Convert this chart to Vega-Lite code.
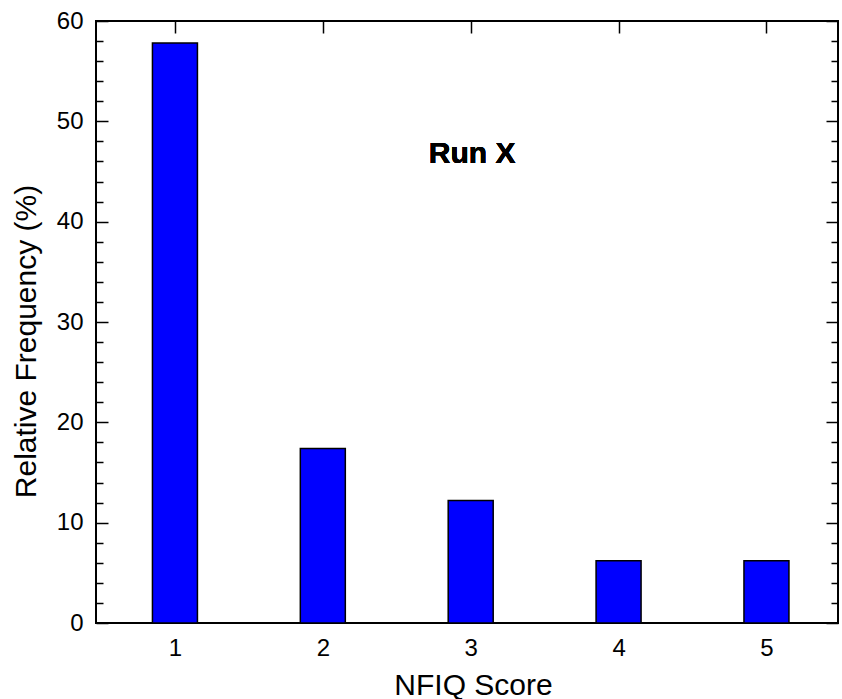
{
  "$schema": "https://vega.github.io/schema/vega-lite/v6.json",
  "width": 742,
  "height": 602,
  "autosize": "none",
  "padding": {"left": 96, "top": 21, "right": 4, "bottom": 76},
  "background": "white",
  "config": {
    "view": {"stroke": "black", "strokeWidth": 2},
    "axis": {
      "domain": false,
      "grid": false,
      "labelFont": "Liberation Sans",
      "titleFont": "Liberation Sans",
      "labelColor": "black",
      "titleColor": "black",
      "tickColor": "black",
      "tickWidth": 1.5,
      "titleFontWeight": "normal"
    }
  },
  "data": {
    "values": [
      {"score": 1, "freq": 57.8},
      {"score": 2, "freq": 17.4},
      {"score": 3, "freq": 12.2},
      {"score": 4, "freq": 6.2},
      {"score": 5, "freq": 6.2}
    ]
  },
  "layer": [
    {
      "mark": {"type": "bar", "color": "#0000ff", "stroke": "black", "strokeWidth": 1.5, "width": 45},
      "encoding": {
        "x": {
          "field": "score", "type": "quantitative",
          "scale": {"domain": [0.5, 5.45], "nice": false, "zero": false},
          "axis": {"orient": "bottom", "values": [1, 2, 3, 4, 5], "tickSize": -12, "labelPadding": 25, "labelFontSize": 24, "title": "NFIQ Score", "titleFontSize": 30, "titlePadding": 10, "titleX": 377, "format": "d"}
        },
        "y": {
          "field": "freq", "type": "quantitative",
          "scale": {"domain": [0, 60], "nice": false},
          "axis": {"orient": "left", "values": [0, 10, 20, 30, 40, 50, 60], "tickSize": -12, "labelPadding": 25, "labelFontSize": 24, "title": "Relative Frequency (%)", "titleFontSize": 30, "titlePadding": 15, "titleY": 320}
        }
      }
    },
    {
      "mark": {"type": "bar", "opacity": 0, "width": 45},
      "encoding": {
        "x": {
          "field": "score", "type": "quantitative",
          "scale": {"domain": [0.5, 5.45], "nice": false, "zero": false},
          "axis": {"orient": "top", "values": [1, 2, 3, 4, 5], "tickSize": -12, "labels": false, "title": null}
        },
        "y": {
          "field": "freq", "type": "quantitative",
          "scale": {"domain": [0, 60], "nice": false},
          "axis": {"orient": "left", "values": [2, 4, 6, 8, 12, 14, 16, 18, 22, 24, 26, 28, 32, 34, 36, 38, 42, 44, 46, 48, 52, 54, 56, 58], "tickSize": -7, "labels": false, "title": null}
        }
      }
    },
    {
      "mark": {"type": "bar", "opacity": 0, "width": 45},
      "encoding": {
        "x": {"field": "score", "type": "quantitative", "scale": {"domain": [0.5, 5.45], "nice": false, "zero": false}, "axis": null},
        "y": {
          "field": "freq", "type": "quantitative",
          "scale": {"domain": [0, 60], "nice": false},
          "axis": {"orient": "right", "values": [0, 10, 20, 30, 40, 50, 60], "tickSize": -12, "labels": false, "title": null}
        }
      }
    },
    {
      "mark": {"type": "bar", "opacity": 0, "width": 45},
      "encoding": {
        "x": {"field": "score", "type": "quantitative", "scale": {"domain": [0.5, 5.45], "nice": false, "zero": false}, "axis": null},
        "y": {
          "field": "freq", "type": "quantitative",
          "scale": {"domain": [0, 60], "nice": false},
          "axis": {"orient": "right", "values": [2, 4, 6, 8, 12, 14, 16, 18, 22, 24, 26, 28, 32, 34, 36, 38, 42, 44, 46, 48, 52, 54, 56, 58], "tickSize": -7, "labels": false, "title": null}
        }
      }
    },
    {
      "mark": {"type": "text", "text": "Run X", "font": "Liberation Sans", "fontWeight": "bold", "fontSize": 30, "color": "black", "align": "center", "baseline": "middle"},
      "encoding": {
        "x": {"datum": 3.01, "type": "quantitative", "scale": {"domain": [0.5, 5.45], "nice": false, "zero": false}, "axis": null},
        "y": {"datum": 46.7, "type": "quantitative", "scale": {"domain": [0, 60], "nice": false}, "axis": null}
      }
    }
  ],
  "resolve": {"axis": {"x": "independent", "y": "independent"}}
}
